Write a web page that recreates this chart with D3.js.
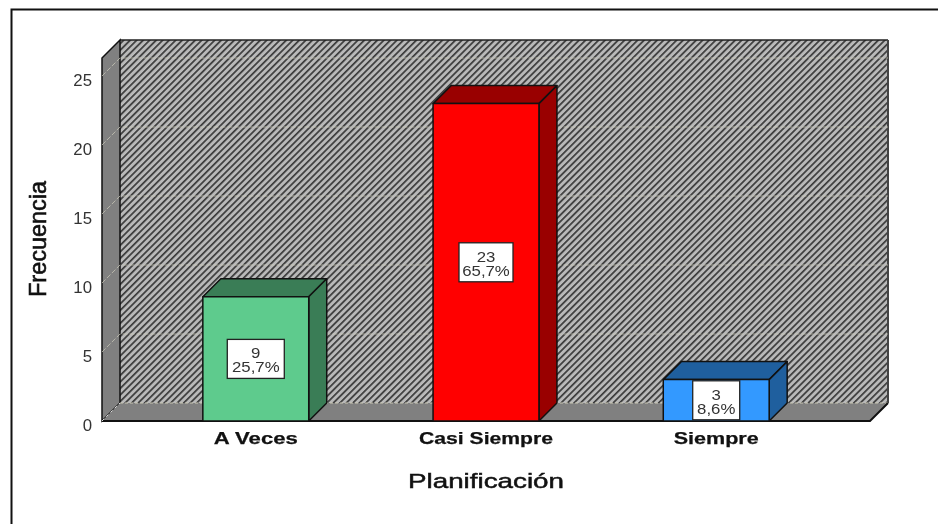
<!DOCTYPE html>
<html><head><meta charset="utf-8">
<script src="https://cdn.jsdelivr.net/npm/d3@7"></script>
<style>
html,body{margin:0;padding:0;background:#fff;overflow:hidden}
svg{display:block;filter:blur(0.4px)}
text{font-family:"Liberation Sans",Arial,sans-serif;fill:#111}
</style></head><body><div id="c"></div>
<script>
const categories = ["A Veces", "Casi Siempre", "Siempre"];
const counts = [9, 23, 3];
const percents = ["25,7%", "65,7%", "8,6%"];
const frontColors = ["#5ecb8d", "#ff0000", "#3399ff"];
const darkColors = ["#3a7d56", "#990000", "#1f5f9e"];
const yTicks = [0, 5, 10, 15, 20, 25];
const xTitle = "Planificación", yTitle = "Frecuencia";

const W = 938, H = 524, depth = 18;
const left = 102, right = 870, floorY = 421, wallTop = 40;
const svg = d3.select("#c").append("svg").attr("width", W).attr("height", H);

const defs = svg.append("defs");
const pat = defs.append("pattern").attr("id", "hatch").attr("patternUnits", "userSpaceOnUse")
  .attr("width", 4.6).attr("height", 4.6).attr("patternTransform", "rotate(-45)");
pat.append("rect").attr("width", 4.6).attr("height", 4.6).attr("fill", "#b9b9b9");
pat.append("rect").attr("width", 4.6).attr("height", 1.7).attr("fill", "#3a3a3a");

const y = d3.scaleLinear().domain([0, 25]).range([floorY, 76]);
const x = d3.scaleBand().domain(categories).range([left, right]).paddingInner(0.54).paddingOuter(0.438);
const poly = d3.line();

// frame
svg.append("path").attr("d", `M11.5,${H}V9.5H${W}`).attr("fill", "none").attr("stroke", "#111").attr("stroke-width", 2);

// walls
const g = svg.append("g");
g.append("rect").attr("x", left + depth).attr("y", wallTop).attr("width", right - left).attr("height", floorY - depth - wallTop)
  .attr("fill", "url(#hatch)");
g.append("path").attr("d", poly([[left + depth, wallTop], [right + depth, wallTop]])).attr("stroke", "#222").attr("stroke-width", 1.6);
g.append("path").attr("d", poly([[right + depth, wallTop], [right + depth, floorY - depth]])).attr("stroke", "#444").attr("stroke-width", 2);
g.append("path").attr("d", poly([[left, wallTop + depth], [left + depth, wallTop], [left + depth, floorY - depth], [left, floorY]]) + "Z")
  .attr("fill", "#808080").attr("stroke", "#111").attr("stroke-width", 1.5);
g.append("path").attr("d", poly([[left, floorY], [left + depth, floorY - depth], [right + depth, floorY - depth], [right, floorY]]) + "Z")
  .attr("fill", "#808080");
g.append("path").attr("d", poly([[left + depth, floorY - depth], [right + depth, floorY - depth]]))
  .attr("stroke", "#c9c7b4").attr("stroke-width", 1).attr("stroke-dasharray", "3,2").attr("fill", "none");
g.append("path").attr("d", poly([[right + depth, floorY - depth], [right, floorY], [left, floorY]]))
  .attr("stroke", "#111").attr("stroke-width", 2).attr("fill", "none");
g.append("path").attr("d", poly([[left, floorY], [left + depth, floorY - depth]]))
  .attr("stroke", "#ddd").attr("stroke-width", 1).attr("stroke-dasharray", "3,3").attr("fill", "none");

// gridlines
g.selectAll("path.grid").data(yTicks.filter(d => d > 0)).join("path").attr("class", "grid")
  .attr("d", d => poly([[left, y(d)], [left + depth, y(d) - depth], [right + depth, y(d) - depth]]))
  .attr("fill", "none").attr("stroke", "#cfcdbc").attr("stroke-width", 1).attr("stroke-dasharray", "5,2").attr("opacity", 0.7);

// axis
const axis = svg.append("g").attr("transform", `translate(${left},0)`)
  .call(d3.axisLeft(y).tickValues(yTicks).tickSize(0).tickPadding(0).tickFormat(d3.format("d")));
axis.select(".domain").remove();
axis.selectAll("text").attr("font-size", 16).style("fill", "#333")
  .attr("x", 0).attr("dy", 0).attr("text-anchor", "end")
  .attr("transform", "translate(-10,9) scale(1.05,1)");

// bars
const bars = svg.selectAll("g.bar").data(categories).join("g").attr("class", "bar");
const edge = { stroke: "#111", "stroke-width": 1.5, "stroke-linejoin": "round" };
function styled(sel) { Object.entries(edge).forEach(([k, v]) => sel.attr(k, v)); return sel; }
styled(bars.append("path").attr("d", (c, i) => {
  const a = x(c), b = a + x.bandwidth(), t = y(counts[i]);
  return poly([[a, t], [a + depth, t - depth], [b + depth, t - depth], [b, t]]) + "Z";
}).attr("fill", (c, i) => darkColors[i]));
styled(bars.append("path").attr("d", (c, i) => {
  const b = x(c) + x.bandwidth(), t = y(counts[i]);
  return poly([[b, t], [b + depth, t - depth], [b + depth, y(0) - depth], [b, y(0)]]) + "Z";
}).attr("fill", (c, i) => darkColors[i]));
styled(bars.append("rect").attr("x", c => x(c)).attr("y", (c, i) => y(counts[i]))
  .attr("width", x.bandwidth()).attr("height", (c, i) => y(0) - y(counts[i]))
  .attr("fill", (c, i) => frontColors[i]));

// value boxes
const labelW = [57, 54, 47];
bars.each(function (c, i) {
  const s = d3.select(this), cx = x(c) + x.bandwidth() / 2, cy = (y(0) + y(counts[i])) / 2;
  s.append("rect").attr("x", cx - labelW[i] / 2).attr("y", cy - 19.5).attr("width", labelW[i]).attr("height", 39)
    .attr("fill", "#fff").attr("stroke", "#222").attr("stroke-width", 1.3);
  const t = s.append("text").attr("text-anchor", "middle").attr("font-size", 15).style("fill", "#333")
    .attr("transform", `translate(${cx},${cy - 0.5}) scale(1.12,1)`);
  t.append("tspan").attr("x", 0).attr("dy", 0).text(counts[i]);
  t.append("tspan").attr("x", 0).attr("dy", 14).text(percents[i]);
});

// category labels
const catLen = [84, 134, 85];
svg.selectAll("text.cat").data(categories).join("text").attr("class", "cat")
  .attr("x", c => x(c) + x.bandwidth() / 2).attr("y", 444).attr("text-anchor", "middle")
  .attr("font-size", 16.5).attr("font-weight", "bold").attr("stroke", "#111").attr("stroke-width", 0.25)
  .attr("textLength", (c, i) => catLen[i]).attr("lengthAdjust", "spacingAndGlyphs").text(c => c);

svg.append("text").attr("x", 486).attr("y", 488).attr("text-anchor", "middle")
  .attr("font-size", 21).attr("stroke", "#111").attr("stroke-width", 0.5)
  .attr("textLength", 156).attr("lengthAdjust", "spacingAndGlyphs").text(xTitle);
svg.append("text").attr("transform", "translate(46,239) rotate(-90)").attr("text-anchor", "middle")
  .attr("font-size", 24).attr("stroke", "#111").attr("stroke-width", 0.6)
  .attr("textLength", 116).attr("lengthAdjust", "spacingAndGlyphs").text(yTitle);
</script></body></html>
